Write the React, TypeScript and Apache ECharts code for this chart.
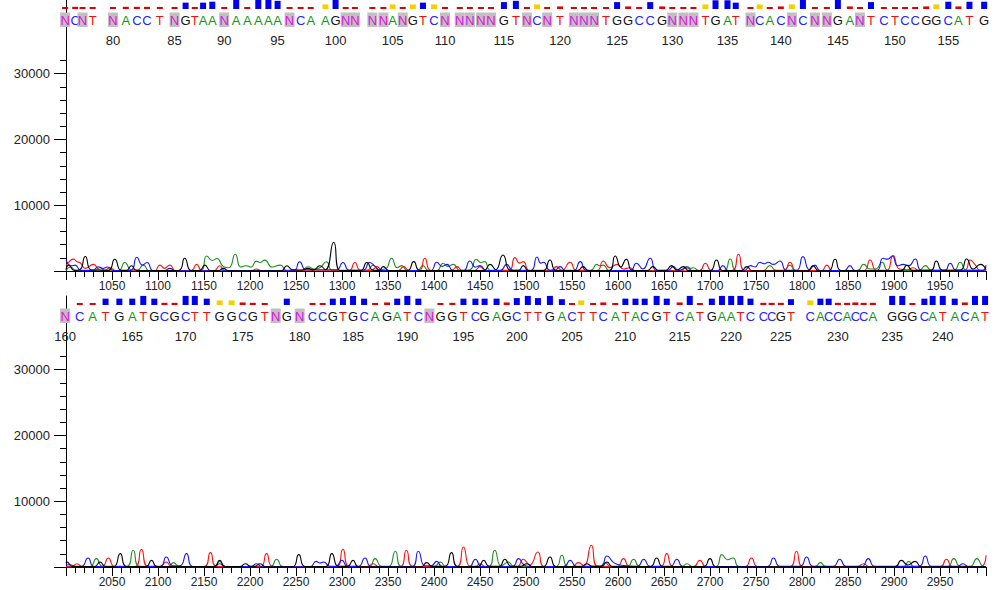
import React, { useEffect, useRef } from "react";
import * as echarts from "echarts";

const FONT = '"Liberation Sans", Arial, Helvetica, sans-serif';

// ---------- sequence data ----------
const topStart = 76;
const topSeq = ["NCNT", "NACCT", "NGTAA", "NAAAA", "ANCAA", "GNNNN", "ANGTC", "NNNNN", "GTNCN", "TNNNT", "GGCCG", "NNNTG", "ATNCA", "CNCNN", "GANTC", "TCCGG", "CATG"].join("");
const topBaseScans = [
  999, 1010, 1018, 1029, 1051, 1065, 1077, 1088, 1102, 1118, 1130, 1140, 1149, 1159, 1172, 1185, 1197, 1209, 1220, 1230,
  1243, 1255, 1266, 1282, 1293, 1304, 1314, 1333, 1345, 1355, 1366, 1377, 1388, 1400, 1412, 1428, 1439, 1451, 1462, 1476,
  1489, 1501, 1512, 1523, 1537, 1552, 1563, 1574, 1587, 1599, 1611, 1623, 1635, 1648, 1659, 1671, 1682, 1695, 1706, 1719,
  1728, 1744, 1754, 1765, 1777, 1789, 1801, 1814, 1827, 1839, 1852, 1863, 1875, 1889, 1901, 1912, 1923, 1935, 1946, 1959,
  1970, 1982, 1998,
];
const topQual = [
  8, 12, 8, 10, 10, 12, 12, 12, 10, 8, 35, 8, 35, 40, 10, 50, 10, 50, 50, 45,
  8, 10, 8, 25, 55, 8, 8, 8, 8, 25, 8, 25, 35, 25, 8, 8, 8, 8, 8, 38,
  45, 8, 25, 8, 14, 8, 8, 8, 10, 38, 14, 10, 38, 14, 8, 8, 8, 25, 48, 48,
  35, 8, 25, 8, 14, 25, 55, 8, 8, 55, 14, 8, 38, 10, 10, 10, 10, 14, 25, 40,
  14, 40, 40,
];

const botStart = 160;
const botSeq = ["NCATGATGCGCTTGGCGTNGNCCGTGCA", "GATCNGGTCGAGCTTGACTTCATACGTCA", "TGAATCCCGTCACCACCAGGGCATACAT"].join("");
const botBaseScans = [
  1999, 2015, 2029, 2043, 2058, 2072, 2084, 2096, 2107, 2118, 2130, 2140, 2153, 2167, 2180, 2192, 2203, 2216, 2228, 2240,
  2254, 2268, 2279, 2290, 2301, 2312, 2324, 2336, 2349, 2360, 2371, 2383, 2395, 2407, 2420, 2432, 2445, 2455, 2468, 2479,
  2490, 2502, 2513, 2526, 2539, 2550, 2560, 2573, 2584, 2597, 2608, 2619, 2629, 2642, 2653, 2667, 2678, 2689, 2702, 2713,
  2723, 2733, 2744, 2758, 2767, 2777, 2788, 2809, 2820, 2829, 2839, 2849, 2858, 2867, 2877, 2898, 2909, 2920, 2933, 2942,
  2953, 2966, 2977, 2988, 2999,
];
const botQual = [
  0, 10, 10, 35, 35, 35, 50, 35, 12, 12, 50, 50, 35, 25, 25, 14, 12, 10, 0, 35,
  0, 10, 10, 35, 38, 50, 35, 10, 14, 35, 50, 35, 0, 10, 12, 35, 35, 35, 35, 14,
  38, 50, 38, 50, 32, 10, 25, 10, 14, 10, 35, 35, 35, 50, 35, 14, 50, 8, 35, 50,
  50, 50, 35, 12, 12, 12, 32, 25, 35, 35, 12, 12, 14, 12, 12, 50, 50, 8, 35, 50,
  50, 35, 14, 50, 50,
];

// ---------- axis ticks ----------
const yMajorTicks = [0, 10000, 20000, 30000];
const yLabelValues = [10000, 20000, 30000];
const yMinorTicks = [2000, 4000, 6000, 8000, 12000, 14000, 16000, 18000, 22000, 24000, 26000, 28000, 32000];

// ---------- traces (scan, signal) : top panel ----------
const topG = [[1000,200],[1003,900],[1009,100],[1015,200],[1021,2200],[1028,150],[1046,100],[1053,1780],[1060,100],[1066,100],[1071,800],[1077,80],[1122,80],[1129,1930],[1136,80],[1145,80],[1151,900],[1157,80],[1166,80],[1171,400],[1177,40],[1234,40],[1240,800],[1246,200],[1257,150],[1263,400],[1269,150],[1276,800],[1282,200],[1291,4370],[1298,60],[1320,60],[1327,1300],[1334,100],[1340,100],[1345,660],[1351,60],[1371,60],[1378,1420],[1385,60],[1454,60],[1461,1000],[1467,200],[1475,2440],[1483,100],[1492,100],[1497,810],[1503,60],[1519,60],[1526,1680],[1533,60],[1556,60],[1562,660],[1568,60],[1590,60],[1597,2290],[1603,600],[1609,1780],[1616,60],[1632,60],[1638,660],[1644,100],[1652,100],[1658,810],[1664,150],[1671,660],[1677,60],[1700,60],[1707,1680],[1714,60],[1734,60],[1740,660],[1746,40],[1806,40],[1812,810],[1818,40],[1829,40],[1836,1780],[1843,60],[1908,60],[1914,900],[1920,100],[1940,100],[1946,1520],[1953,100],[1972,150],[1979,1830],[1986,300],[1994,1000],[2000,200]];
const topA = [[1000,100],[1005,600],[1011,60],[1031,60],[1037,500],[1043,40],[1057,60],[1064,1300],[1071,200],[1078,200],[1084,900],[1091,40],[1146,60],[1153,2290],[1159,1600],[1164,1900],[1171,700],[1177,500],[1184,2540],[1190,600],[1196,800],[1201,600],[1207,1500],[1211,1300],[1216,1650],[1224,600],[1233,900],[1240,100],[1256,100],[1263,650],[1270,300],[1276,500],[1283,1400],[1290,100],[1327,100],[1334,900],[1340,200],[1347,300],[1354,1930],[1360,500],[1365,810],[1371,60],[1382,60],[1388,810],[1394,60],[1403,60],[1410,1170],[1415,700],[1421,1000],[1428,100],[1439,200],[1446,1780],[1451,1300],[1455,1420],[1462,100],[1570,100],[1577,1000],[1580,800],[1584,900],[1591,60],[1668,60],[1675,660],[1679,400],[1682,500],[1688,60],[1715,60],[1722,1830],[1729,60],[1758,60],[1765,810],[1772,100],[1780,100],[1787,900],[1793,60],[1860,60],[1867,1000],[1874,300],[1880,300],[1887,1320],[1894,60],[1927,60],[1934,810],[1941,100],[1965,100],[1972,1320],[1979,100],[2000,100]];
const topC = [[1000,1700],[1006,800],[1010,900],[1016,100],[1029,100],[1035,650],[1040,400],[1045,600],[1052,60],[1070,60],[1077,2100],[1083,900],[1088,1300],[1095,60],[1107,60],[1113,400],[1119,40],[1247,40],[1254,1400],[1261,200],[1294,200],[1301,1300],[1308,100],[1323,100],[1330,1300],[1336,700],[1342,60],[1396,60],[1403,1320],[1409,700],[1414,1000],[1421,60],[1432,60],[1439,1520],[1445,600],[1450,810],[1457,60],[1472,60],[1479,1000],[1486,60],[1505,60],[1512,2130],[1516,1200],[1519,1320],[1526,100],[1531,100],[1537,660],[1543,60],[1552,60],[1559,1420],[1566,60],[1613,60],[1620,1170],[1627,300],[1635,1930],[1642,60],[1654,60],[1660,660],[1666,100],[1675,500],[1681,40],[1708,40],[1714,810],[1720,60],[1737,60],[1744,810],[1749,600],[1754,1320],[1759,1100],[1763,1320],[1769,1000],[1776,1520],[1783,100],[1794,100],[1801,2180],[1808,200],[1814,900],[1820,60],[1846,60],[1852,810],[1858,60],[1881,60],[1888,1930],[1893,1800],[1898,2290],[1904,800],[1910,1000],[1916,800],[1923,1830],[1930,100],[1955,100],[1961,1170],[1968,100],[1996,100],[2000,900]];
const topT = [[1000,800],[1004,1500],[1008,1800],[1012,1400],[1015,1300],[1021,400],[1030,1000],[1036,200],[1042,100],[1048,500],[1054,40],[1096,40],[1102,900],[1107,400],[1113,900],[1119,60],[1136,60],[1142,1000],[1148,60],[1161,60],[1167,800],[1173,40],[1201,40],[1207,300],[1213,30],[1307,30],[1314,1300],[1320,100],[1332,100],[1338,660],[1344,60],[1361,60],[1367,660],[1373,60],[1384,60],[1390,1930],[1397,60],[1419,60],[1425,660],[1431,60],[1444,60],[1450,660],[1456,60],[1481,60],[1488,2030],[1493,1200],[1497,1420],[1504,60],[1527,60],[1533,660],[1539,100],[1548,1320],[1555,60],[1577,60],[1584,1520],[1591,500],[1599,1000],[1606,300],[1613,500],[1619,40],[1688,40],[1695,1170],[1702,60],[1724,60],[1731,2540],[1738,60],[1780,60],[1787,1320],[1794,60],[1821,60],[1827,900],[1833,60],[1867,60],[1874,1680],[1881,100],[1892,100],[1899,2340],[1906,300],[1914,200],[1921,500],[1927,60],[1976,60],[1983,1680],[1988,1000],[1994,60],[2000,60]];

// ---------- traces : bottom panel ----------
const botG = [[2000,600],[2001,760],[2007,60],[2031,60],[2037,760],[2043,60],[2052,60],[2059,2030],[2066,60],[2087,60],[2093,1000],[2099,60],[2161,60],[2167,1000],[2173,60],[2189,60],[2195,500],[2201,100],[2205,100],[2211,500],[2217,40],[2246,40],[2253,1880],[2260,60],[2282,60],[2289,2030],[2296,100],[2306,100],[2312,1000],[2318,40],[2386,40],[2392,660],[2398,100],[2412,100],[2419,2180],[2426,60],[2448,60],[2454,1000],[2460,100],[2471,100],[2477,1170],[2484,100],[2494,100],[2501,500],[2507,60],[2519,60],[2526,1520],[2533,60],[2560,60],[2566,500],[2572,100],[2582,100],[2588,760],[2594,60],[2635,60],[2642,1370],[2649,60],[2693,60],[2700,1270],[2707,40],[2901,40],[2908,1000],[2915,300],[2923,860],[2930,40],[3000,40]];
const botA = [[2000,60],[2026,60],[2033,1270],[2040,100],[2066,100],[2073,2540],[2080,100],[2111,60],[2117,660],[2123,60],[2161,60],[2167,860],[2173,60],[2222,60],[2229,1170],[2236,60],[2329,60],[2336,1270],[2343,100],[2351,100],[2358,2390],[2365,60],[2400,60],[2407,760],[2413,60],[2459,60],[2466,2540],[2473,150],[2481,760],[2487,60],[2532,60],[2539,1780],[2546,60],[2580,60],[2586,660],[2592,60],[2610,60],[2617,1170],[2624,60],[2669,60],[2675,500],[2681,60],[2706,60],[2713,1880],[2719,1100],[2725,1370],[2732,60],[2814,60],[2820,660],[2826,60],[2910,60],[2916,860],[2922,60],[2958,60],[2965,1270],[2972,100],[2983,100],[2990,1270],[2997,100],[3000,60]];
const botC = [[2000,300],[2004,350],[2010,100],[2017,100],[2024,1370],[2031,60],[2102,60],[2109,1520],[2116,200],[2124,200],[2131,2030],[2138,60],[2161,60],[2167,500],[2173,60],[2201,60],[2207,500],[2213,40],[2265,40],[2272,860],[2276,600],[2280,760],[2287,100],[2293,100],[2300,1000],[2306,100],[2318,100],[2325,1370],[2332,60],[2376,60],[2383,2390],[2390,200],[2397,200],[2403,860],[2409,60],[2438,60],[2445,1170],[2452,60],[2485,60],[2492,1270],[2498,300],[2505,60],[2541,60],[2548,1000],[2555,100],[2581,100],[2588,1680],[2595,700],[2602,300],[2621,100],[2628,1170],[2635,100],[2657,100],[2664,1170],[2671,60],[2762,60],[2769,1370],[2776,100],[2798,100],[2805,1520],[2812,100],[2834,100],[2841,1170],[2848,100],[2865,100],[2872,1270],[2879,100],[2927,100],[2934,1680],[2941,100],[2969,100],[2975,500],[2981,40],[3000,40]];
const botT = [[2000,60],[2006,60],[2012,500],[2018,60],[2039,60],[2046,1370],[2053,60],[2075,60],[2082,2690],[2089,100],[2102,100],[2109,760],[2115,60],[2150,60],[2157,2180],[2164,60],[2211,60],[2218,2030],[2225,60],[2294,60],[2301,2690],[2308,60],[2327,60],[2334,500],[2340,40],[2363,40],[2370,2540],[2377,60],[2425,60],[2432,3050],[2439,100],[2445,100],[2450,500],[2456,60],[2490,60],[2497,1170],[2504,300],[2513,2290],[2520,60],[2550,60],[2557,660],[2563,200],[2571,3300],[2578,100],[2599,100],[2606,1270],[2613,60],[2646,60],[2653,2030],[2660,60],[2682,60],[2689,1000],[2696,40],[2738,40],[2745,1370],[2752,40],[2787,40],[2794,2390],[2801,60],[2860,60],[2867,500],[2873,40],[2950,40],[2957,1170],[2964,40],[2994,40],[3000,1800]];

// ---------- styling ----------
const baseColor: Record<string, string> = { A: "#0a9a0a", C: "#2424ff", G: "#111111", T: "#ee1111", N: "#e010e0" };
const traceColor = { A: "#1f8f1f", C: "#1414ff", G: "#000000", T: "#ff1010" };
const qualColor = (q: number) => (q < 20 ? "#e00000" : q < 30 ? "#f5d000" : "#0000ee");
const plain = (v: number) => String(v);

const LEFT = 66;
const WIDTH = 920;

function headerSeries(xi: number, yi: number, seq: string, start: number, scans: number[], quals: number[]) {
  return {
    type: "custom",
    xAxisIndex: xi,
    yAxisIndex: yi,
    silent: true,
    data: scans.map((s, i) => [s, quals[i]]),
    renderItem: (params: any, api: any) => {
      const i = params.dataIndex;
      const cs = params.coordSys;
      const x = api.coord([api.value(0), 0])[0];
      const q = api.value(1);
      const ch = seq[i];
      const num = start + i;
      const children: any[] = [];
      if (q > 0) {
        const h = Math.max(2, q / 5.5);
        children.push({ type: "rect", shape: { x: x - 3, y: cs.y + 9 - h, width: 6, height: h }, style: { fill: qualColor(q) } });
      }
      if (ch === "N") {
        children.push({ type: "rect", shape: { x: x - 5, y: cs.y + 12.5, width: 10, height: 14.5 }, style: { fill: "#c0c0c0" } });
      }
      children.push({
        type: "text",
        style: { text: ch, x, y: cs.y + 20, fill: baseColor[ch] || "#000", font: `13px ${FONT}`, align: "center", verticalAlign: "middle" },
      });
      if (num % 5 === 0) {
        children.push({
          type: "text",
          style: { text: String(num), x, y: cs.y + 40, fill: "#222", font: `13px ${FONT}`, align: "center", verticalAlign: "middle" },
        });
      }
      return { type: "group", children };
    },
  };
}

function traceSeries(xi: number, yi: number, data: number[][], color: string) {
  return {
    type: "line",
    xAxisIndex: xi,
    yAxisIndex: yi,
    data,
    symbol: "none",
    showSymbol: false,
    smooth: 0.55,
    silent: true,
    clip: true,
    lineStyle: { color, width: 1.1 },
  };
}

function mainXAxis(grid: number, min: number) {
  return {
    type: "value",
    gridIndex: grid,
    min,
    max: min + 1000,
    interval: 50,
    axisLine: { show: true, onZero: false, lineStyle: { color: "#000", width: 1 } },
    axisTick: { show: true, length: 9, lineStyle: { color: "#000" } },
    minorTick: { show: true, splitNumber: 5, length: 6, lineStyle: { color: "#000" } },
    axisLabel: { show: true, showMinLabel: false, showMaxLabel: false, margin: 9, color: "#222", fontSize: 12, fontFamily: FONT, formatter: plain },
    splitLine: { show: false },
    minorSplitLine: { show: false },
  };
}

function headerXAxis(grid: number, min: number) {
  return { type: "value", gridIndex: grid, min, max: min + 1000, show: false };
}

function headerYAxis(grid: number) {
  return {
    type: "value",
    gridIndex: grid,
    min: 0,
    max: 1,
    axisLine: { show: true, onZero: false, lineStyle: { color: "#000", width: 1 } },
    axisTick: { show: false },
    axisLabel: { show: false },
    splitLine: { show: false },
  };
}

function mainYAxis(grid: number) {
  return {
    type: "value",
    gridIndex: grid,
    min: 0,
    max: 33000,
    position: "left",
    axisLine: { show: true, onZero: false, lineStyle: { color: "#000", width: 1 } },
    axisTick: { show: true, length: 12, customValues: yMajorTicks, lineStyle: { color: "#000" } },
    axisLabel: { show: true, customValues: yLabelValues, margin: 16, color: "#222", fontSize: 13, fontFamily: FONT, formatter: plain },
    splitLine: { show: false },
  };
}

function minorYAxis(grid: number) {
  return {
    type: "value",
    gridIndex: grid,
    min: 0,
    max: 33000,
    position: "left",
    offset: 0,
    axisLine: { show: false, onZero: false },
    axisTick: { show: true, length: 6, customValues: yMinorTicks, lineStyle: { color: "#000" } },
    axisLabel: { show: false },
    splitLine: { show: false },
  };
}

export default function App() {
  const ref = useRef<HTMLDivElement>(null);
  useEffect(() => {
    if (!ref.current) return;
    const chart = echarts.init(ref.current, undefined, { renderer: "svg" });
    chart.setOption({
      animation: false,
      backgroundColor: "#ffffff",
      grid: [
        { left: LEFT, top: 0, width: WIDTH, height: 54 },
        { left: LEFT, top: 54, width: WIDTH, height: 217 },
        { left: LEFT, top: 296, width: WIDTH, height: 54 },
        { left: LEFT, top: 350, width: WIDTH, height: 217 },
      ],
      xAxis: [headerXAxis(0, 1000), mainXAxis(1, 1000), headerXAxis(2, 2000), mainXAxis(3, 2000)],
      yAxis: [headerYAxis(0), mainYAxis(1), minorYAxis(1), headerYAxis(2), mainYAxis(3), minorYAxis(3)],
      series: [
        headerSeries(0, 0, topSeq, topStart, topBaseScans, topQual),
        traceSeries(1, 1, topA, traceColor.A),
        traceSeries(1, 1, topT, traceColor.T),
        traceSeries(1, 1, topC, traceColor.C),
        traceSeries(1, 1, topG, traceColor.G),
        headerSeries(2, 3, botSeq, botStart, botBaseScans, botQual),
        traceSeries(3, 4, botA, traceColor.A),
        traceSeries(3, 4, botT, traceColor.T),
        traceSeries(3, 4, botC, traceColor.C),
        traceSeries(3, 4, botG, traceColor.G),
      ],
    });
    return () => chart.dispose();
  }, []);
  return (
    <div
      ref={ref}
      style={{ position: "fixed", left: 0, top: 0, width: 1002, height: 590, background: "#fff" }}
    />
  );
}
